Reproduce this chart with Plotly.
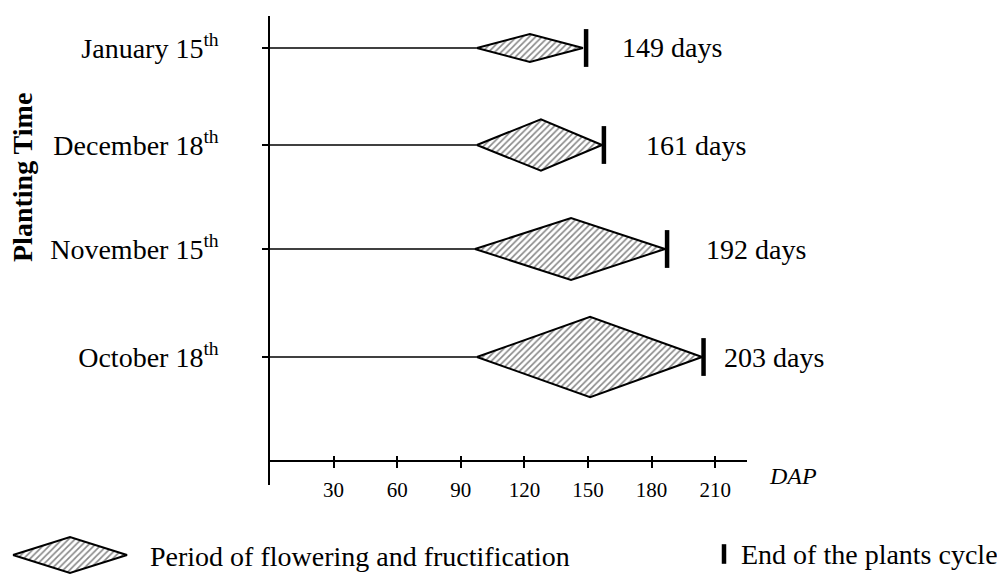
import plotly.graph_objects as go

# ---- data (bottom row first) ----
planting = ["October 18", "November 15", "December 18", "January 15"]
cycle_days = [203, 192, 161, 149]          # label values
bar_end = [204.5, 187.3, 157.5, 149.1]      # end-of-cycle marks (DAP) as drawn
flower_start = [97.6, 96.7, 97.6, 97.6]     # start of flowering (DAP)
flower_peak = [151, 142, 127.8, 122.6]      # widest point of flowering period
flower_end = [203.8, 186.3, 156.6, 147.6]   # end of flowering period
x_ticks = [30, 60, 90, 120, 150, 180, 210]

# ---- style / layout (reference pixel coordinates) ----
diamond_half = [0.39, 0.30, 0.25, 0.136]
label_xshift = [18, 37, 40, 34]
ROW_CENTER_PX = [357, 249, 145, 48]   # vertical placement of each planting row
FONT = "Liberation Serif"
OFF = 8                      # page body margin
W, H = 1005 - OFF, 576 - OFF
X_L, X_R, Y_T, Y_B = 270, 747, 16, 485
X_AXIS_Y = 461
ROW_PX = 103
ROW0_PX = 357


def px(x):
    return (x - OFF) / W


def py(y):
    return 1 - (y - OFF) / H


hatch = dict(shape="/", fgcolor="#111111", bgcolor="white", size=4.5, solidity=0.36)

fig = go.Figure()
rows = [(ROW0_PX - p) / ROW_PX for p in ROW_CENTER_PX]

# horizontal lines from axis to start of flowering
lx, ly = [], []
for r, s in zip(rows, flower_start):
    lx += [0, s, None]
    ly += [r, r, None]
fig.add_trace(go.Scatter(x=lx, y=ly, mode="lines", line=dict(color="black", width=1.5),
                         hoverinfo="skip", showlegend=False))

# diamonds
for r, s, p, e, h in zip(rows, flower_start, flower_peak, flower_end, diamond_half):
    fig.add_trace(go.Scatter(
        x=[s, p, e, p, s], y=[r, r + h, r, r - h, r], mode="lines", fill="toself",
        fillcolor="white", fillpattern=hatch, line=dict(color="black", width=2),
        hoverinfo="skip", showlegend=False))

# end of cycle bars
fig.add_trace(go.Scatter(x=bar_end, y=rows, mode="markers",
                         marker=dict(symbol="line-ns", size=27, color="black",
                                     line=dict(color="black", width=4.5)),
                         hoverinfo="skip", showlegend=False))

# dummy trace for overlay axis (crossing ticks)
fig.add_trace(go.Scatter(x=[None], y=[None], xaxis="x2", yaxis="y", showlegend=False,
                         hoverinfo="skip"))

# day labels
for r, b, d, xs in zip(rows, bar_end, cycle_days, label_xshift):
    fig.add_annotation(x=b, y=r, xref="x", yref="y", text=f"{d} days", showarrow=False,
                       xanchor="left", yanchor="middle", xshift=xs,
                       font=dict(family=FONT, size=28, color="black"))

# legend glyphs on a pixel axis
fig.add_trace(go.Scatter(x=[13, 70, 127, 70, 13], y=[555, 537, 555, 573, 555], mode="lines",
                         fill="toself", fillcolor="white", fillpattern=hatch,
                         line=dict(color="black", width=2), xaxis="x3", yaxis="y3",
                         hoverinfo="skip", showlegend=False))
fig.add_trace(go.Scatter(x=[724], y=[554], mode="markers", xaxis="x3", yaxis="y3",
                         marker=dict(symbol="line-ns", size=14, color="black",
                                     line=dict(color="black", width=4.5)),
                         hoverinfo="skip", showlegend=False))

ticktext = [f"{p}<sup>th</sup>" for p in planting]
y_lo = (ROW0_PX - Y_B) / ROW_PX
y_hi = (ROW0_PX - Y_T) / ROW_PX
x_dom = [px(X_L), px(X_R)]
x_pos = py(X_AXIS_Y)

fig.update_layout(
    width=W, height=H, margin=dict(l=0, r=0, t=0, b=0),
    paper_bgcolor="white", plot_bgcolor="rgba(0,0,0,0)",
    font=dict(family=FONT, color="black"),
    xaxis=dict(domain=x_dom, range=[0, 225], anchor="free", position=x_pos,
               showline=True, linecolor="black", linewidth=1.5, showgrid=False, zeroline=False,
               tickvals=x_ticks, ticks="outside", ticklen=6, tickwidth=1.5, tickcolor="black",
               tickfont=dict(family=FONT, size=21), ticklabelstandoff=4),
    xaxis2=dict(domain=x_dom, range=[0, 225], overlaying="x", anchor="free", position=x_pos,
                showline=False, showgrid=False, zeroline=False, tickvals=x_ticks,
                ticks="inside", ticklen=5, tickwidth=1.5, tickcolor="black",
                showticklabels=False),
    yaxis=dict(domain=[py(Y_B), py(Y_T)], range=[y_lo, y_hi], anchor="x",
               showline=True, linecolor="black", linewidth=1.5, showgrid=False, zeroline=False,
               tickvals=rows, ticktext=ticktext, ticks="outside", ticklen=6, tickwidth=1.5,
               tickcolor="black", tickfont=dict(family=FONT, size=28), ticklabelstandoff=38),
    xaxis3=dict(domain=[0, 1], range=[OFF, OFF + W], visible=False, fixedrange=True),
    yaxis3=dict(domain=[0, 1], range=[OFF + H, OFF], visible=False, fixedrange=True,
                anchor="x3"),
    annotations=list(fig.layout.annotations) + [
        dict(x=px(23), y=py(178), xref="paper", yref="paper", text="<b>Planting Time</b>",
             textangle=-90, showarrow=False, xanchor="center", yanchor="middle",
             borderpad=0, font=dict(family=FONT, size=28)),
        dict(x=px(767), y=py(476), xref="paper", yref="paper", text="<i>DAP</i>",
             xanchor="left", yanchor="middle", showarrow=False,
             font=dict(family=FONT, size=24)),
        dict(x=px(148), y=py(556), xref="paper", yref="paper",
             text="Period of flowering and fructification", xanchor="left",
             yanchor="middle", showarrow=False, font=dict(family=FONT, size=28)),
        dict(x=px(739), y=py(554), xref="paper", yref="paper",
             text="End of the plants cycle", xanchor="left", yanchor="middle",
             showarrow=False, font=dict(family=FONT, size=28)),
    ],
)

fig.write_html("out.html")
